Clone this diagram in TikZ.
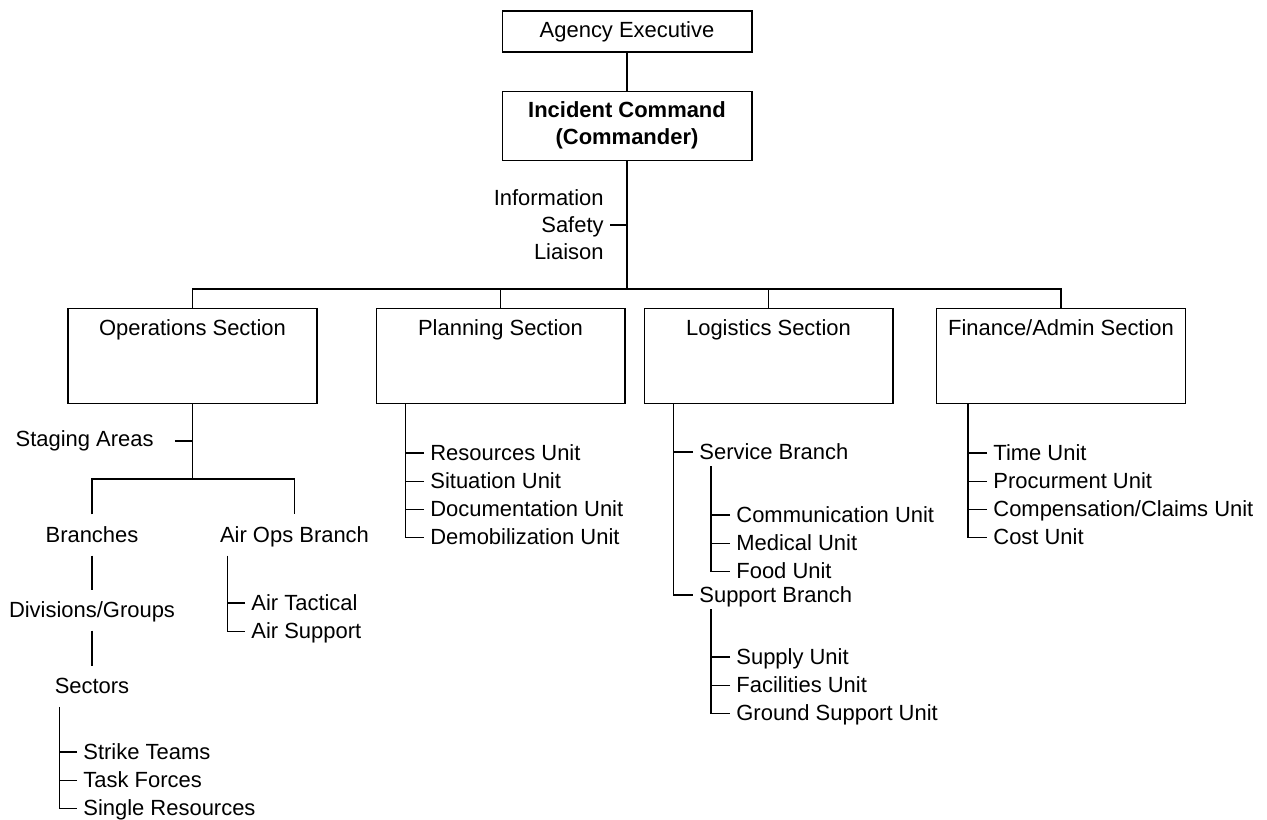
\documentclass[tikz,border=0pt]{standalone}
\usepackage{fontspec}
\setmainfont{Liberation Sans}
\usetikzlibrary{positioning}

\tikzset{
  cmdbox/.style={draw, minimum width=5cm, align=center},
  secbox/.style={draw, minimum width=4.98cm, inner ysep=0pt, text height=5.4mm, text depth=13.6mm},
  rankname/.style={inner ysep=5.4pt, text height=10pt, text depth=2pt},
  unitname/.style={inner ysep=0pt, text height=10pt, text depth=2pt, minimum height=5.4mm},
  nextunit/.style={unitname, below=0pt of #1.south west, anchor=north west},
}

\begin{document}
\begin{tikzpicture}[x=0.02cm, y=-0.02cm, line width=0.6pt, font=\fontsize{12.5}{15.3}\selectfont]
  \useasboundingbox (0,0) rectangle (1267,819);

  % Define nodes
  \node[cmdbox, minimum height=8.2mm] (ae) at (627,31.5) {Agency Executive};
  \node[cmdbox, minimum height=13.8mm, below=7.6mm of ae] (ic) {\textbf{Incident Command}\\\textbf{(Commander)}};
  \node[align=right, anchor=east] (isl) at (610,225) {Information\\Safety\\Liaison};
  \coordinate (bus) at (627,289);
  \node[secbox, anchor=north] (ops) at (192.5,308) {Operations Section};
  \node[secbox, anchor=north] (pla) at (500.5,308) {Planning Section};
  \node[secbox, anchor=north] (log) at (768.5,308) {Logistics Section};
  \node[secbox, anchor=north] (fin) at (1061,308) {Finance/Admin Section};

  % operations
  \node[anchor=east] (sa) at (160,441) {Staging Areas};
  \coordinate (opj) at (192.5,479);
  \node[rankname] (br) at (92,535) {Branches};
  \node[rankname, below=6.8mm of br] (dg) {Divisions/Groups};
  \node[rankname, below=7mm of dg] (sec) {Sectors};
  \node[rankname] (aob) at (294.5,535) {Air Ops Branch};
  \node[unitname, anchor=west] (atac) at (245,603) {Air Tactical};
  \node[nextunit=atac] (asup) {Air Support};
  \node[unitname, anchor=west] (st) at (77,752) {Strike Teams};
  \node[nextunit=st] (tf) {Task Forces};
  \node[nextunit=tf] (sr) {Single Resources};

  % planning
  \node[unitname, anchor=west] (ru) at (424,453) {Resources Unit};
  \node[nextunit=ru] (su) {Situation Unit};
  \node[nextunit=su] (du) {Documentation Unit};
  \node[nextunit=du] (dm) {Demobilization Unit};

  % logistics
  \node[unitname, anchor=west] (svb) at (693,452) {Service Branch};
  \node[unitname, anchor=west] (cu) at (730,515) {Communication Unit};
  \node[nextunit=cu] (mu) {Medical Unit};
  \node[nextunit=mu] (fu) {Food Unit};
  \node[unitname, anchor=west] (spb) at (693,595) {Support Branch};
  \node[unitname, anchor=west] (yu) at (730,657) {Supply Unit};
  \node[nextunit=yu] (fa) {Facilities Unit};
  \node[nextunit=fa] (gs) {Ground Support Unit};

  % finance
  \node[unitname, anchor=west] (tu) at (987,453) {Time Unit};
  \node[nextunit=tu] (pu) {Procurment Unit};
  \node[nextunit=pu] (cc) {Compensation/Claims Unit};
  \node[nextunit=cc] (co) {Cost Unit};

  % Connect the nodes
  \draw (ae) -- (ic);
  \draw (ic) -- (bus);
  \draw (isl) -- (isl -| ic);
  \draw (ops.north) |- (bus) -| (fin.north);
  \draw (pla.north) -- (pla.north |- bus);
  \draw (log.north) -- (log.north |- bus);

  \draw (ops) -- (opj);
  \draw ([xshift=3mm]sa.east) -- (sa -| opj);
  \draw (br) |- (opj) -| (aob);
  \draw (br) -- (dg);
  \draw (dg) -- (sec);
  \coordinate (aosp) at ([xshift=2.8mm]aob.south west);
  \draw (aosp) |- (asup.west);
  \draw (atac.west) -- (atac.west -| aosp);
  \coordinate (secsp) at ([xshift=2.2mm]sec.south west);
  \draw (secsp) |- (sr.west);
  \foreach \n in {st,tf} \draw (\n.west) -- (\n.west -| secsp);

  \coordinate (plsp) at ([xshift=6mm]pla.south west);
  \draw (plsp) |- (dm.west);
  \foreach \n in {ru,su,du} \draw (\n.west) -- (\n.west -| plsp);

  \coordinate (lgsp) at ([xshift=6mm]log.south west);
  \draw (lgsp) |- (spb.west);
  \draw (svb.west) -- (svb.west -| lgsp);
  \coordinate (svsp) at ([xshift=3.6mm]svb.south west);
  \draw (svsp) |- (fu.west);
  \foreach \n in {cu,mu} \draw (\n.west) -- (\n.west -| svsp);
  \coordinate (spsp) at ([xshift=3.6mm]spb.south west);
  \draw (spsp) |- (gs.west);
  \foreach \n in {yu,fa} \draw (\n.west) -- (\n.west -| spsp);

  \coordinate (fnsp) at ([xshift=6.4mm]fin.south west);
  \draw (fnsp) |- (co.west);
  \foreach \n in {tu,pu,cc} \draw (\n.west) -- (\n.west -| fnsp);
\end{tikzpicture}
\end{document}
